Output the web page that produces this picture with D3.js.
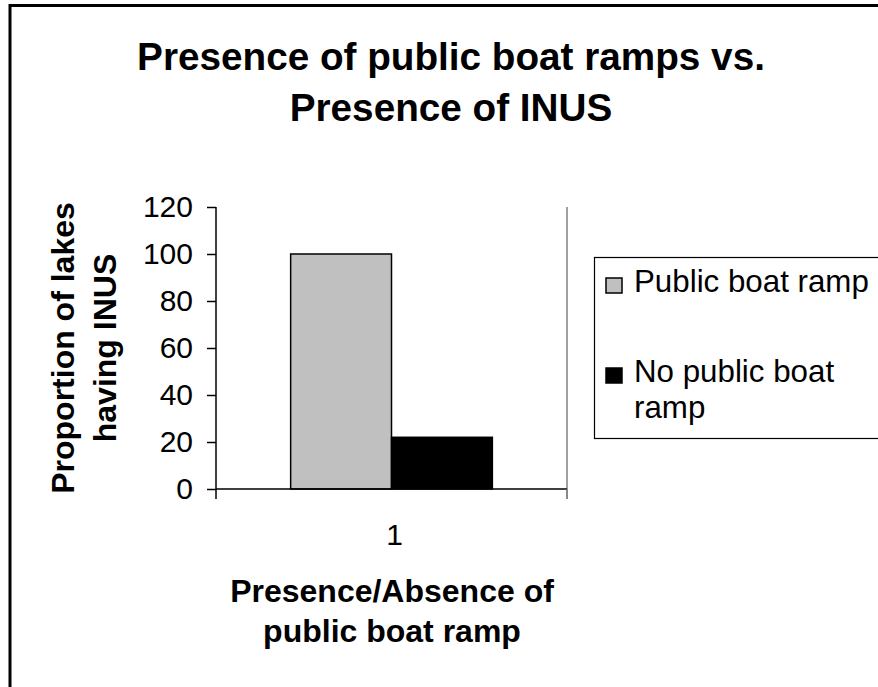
<!DOCTYPE html>
<html>
<head>
<meta charset="utf-8">
<script src="https://cdn.jsdelivr.net/npm/d3@7"></script>
<style>
  html, body { margin: 0; padding: 0; background: #fff; }
  svg { display: block; font-family: "Liberation Sans", Arial, sans-serif; }
</style>
</head>
<body>
<svg id="chart" width="878" height="687"></svg>
<script>
// Chart data
const categories = ["1"];
const seriesNames = ["Public boat ramp", "No public boat ramp"];
const seriesValues = [100, 22];
const seriesColors = ["#C0C0C0", "#000000"];
const yTicks = [0, 20, 40, 60, 80, 100, 120];
const titleLines = ["Presence of public boat ramps vs.", "Presence of INUS"];
const yTitleLines = ["Proportion of lakes", "having INUS"];
const xTitleLines = ["Presence/Absence of", "public boat ramp"];
const legendLines = [["Public boat ramp"], ["No public boat", "ramp"]];

const svg = d3.select("#chart");

// Outer chart frame (runs past the right and bottom edges)
svg.append("rect")
  .attr("x", 10).attr("y", 5.5)
  .attr("width", 1000).attr("height", 1000)
  .attr("fill", "#fff").attr("stroke", "#000").attr("stroke-width", 3);

// Title
svg.append("text")
  .attr("text-anchor", "middle")
  .attr("font-weight", "bold").attr("font-size", "38.7px")
  .selectAll("tspan").data(titleLines).join("tspan")
  .attr("x", 451).attr("y", (d, i) => 70 + i * 51)
  .text(d => d);

// Plot area
const plot = { left: 216, right: 567, top: 207, bottom: 489 };

const y = d3.scaleLinear().domain([0, 120]).range([plot.bottom, plot.top]);
const x = d3.scaleBand().domain(categories).range([plot.left, plot.right]);
const xs = d3.scaleBand().domain(seriesNames)
  .range([0, x.bandwidth()]).paddingOuter(0.74).paddingInner(0);

// Right-hand plot border
svg.append("line")
  .attr("x1", plot.right).attr("x2", plot.right)
  .attr("y1", plot.top).attr("y2", plot.bottom + 10)
  .attr("stroke", "#808080").attr("stroke-width", 1.5);

// Bars
const g = svg.append("g");
g.selectAll("rect.bar")
  .data(seriesNames.map((s, i) => ({ s, v: seriesValues[i], c: seriesColors[i] })))
  .join("rect")
  .attr("class", "bar")
  .attr("x", d => x(categories[0]) + xs(d.s))
  .attr("y", d => y(d.v))
  .attr("width", xs.bandwidth())
  .attr("height", d => y(0) - y(d.v))
  .attr("fill", d => d.c)
  .attr("stroke", "#000").attr("stroke-width", 1.5);

// Y axis
const yAxis = d3.axisLeft(y).tickValues(yTicks).tickSize(9).tickPadding(14);
const yg = svg.append("g").attr("transform", `translate(${plot.left},0)`).call(yAxis);
yg.select(".domain").attr("stroke", "#000").attr("stroke-width", 1.5)
  .attr("d", `M0,${plot.top}V${plot.bottom}`);
yg.selectAll(".tick line").attr("stroke", "#000").attr("stroke-width", 1.5);
yg.selectAll(".tick text")
  .attr("font-size", "30px").attr("fill", "#000")
  .attr("font-family", "'Liberation Sans', Arial, sans-serif");

// X axis
const xAxis = d3.axisBottom(x).tickSize(0).tickPadding(35);
const xg = svg.append("g").attr("transform", `translate(0,${plot.bottom})`).call(xAxis);
xg.select(".domain").attr("stroke", "#000").attr("stroke-width", 1.5)
  .attr("d", `M${plot.left},0H${plot.right}`);
xg.selectAll(".tick text")
  .attr("font-size", "30px").attr("fill", "#000")
  .attr("dx", 3)
  .attr("font-family", "'Liberation Sans', Arial, sans-serif");
// Category boundary tick marks
xg.selectAll("line.edge").data(x.range()).join("line")
  .attr("class", "edge")
  .attr("x1", d => d).attr("x2", d => d)
  .attr("y1", 0).attr("y2", 10)
  .attr("stroke", (d, i) => i === 0 ? "#000" : "#808080").attr("stroke-width", 1.5);

// Y axis title
svg.append("text")
  .attr("transform", "translate(0,348) rotate(-90)")
  .attr("text-anchor", "middle")
  .attr("font-weight", "bold").attr("font-size", "32px")
  .selectAll("tspan").data(yTitleLines).join("tspan")
  .attr("x", 0).attr("y", (d, i) => 74 + i * 42)
  .text(d => d);

// X axis title
svg.append("text")
  .attr("text-anchor", "middle")
  .attr("font-weight", "bold").attr("font-size", "32px")
  .selectAll("tspan").data(xTitleLines).join("tspan")
  .attr("x", 392).attr("y", (d, i) => 602 + i * 40)
  .text(d => d);

// Legend
const lg = svg.append("g");
lg.append("rect")
  .attr("x", 594.5).attr("y", 257.5).attr("width", 400).attr("height", 181)
  .attr("fill", "#fff").attr("stroke", "#000").attr("stroke-width", 1.2);
const items = lg.selectAll("g.item")
  .data(seriesNames.map((s, i) => ({ s, c: seriesColors[i], lines: legendLines[i], yb: [292, 382][i] })))
  .join("g").attr("class", "item");
items.append("rect")
  .attr("x", 606).attr("y", d => d.yb - 14)
  .attr("width", 16).attr("height", 15)
  .attr("fill", d => d.c).attr("stroke", "#000").attr("stroke-width", 1.5);
items.append("text")
  .attr("font-size", "31.3px")
  .selectAll("tspan").data(d => d.lines.map((t, j) => ({ t, y: d.yb + j * 36 }))).join("tspan")
  .attr("x", 634).attr("y", d => d.y)
  .text(d => d.t);
</script>
</body>
</html>
